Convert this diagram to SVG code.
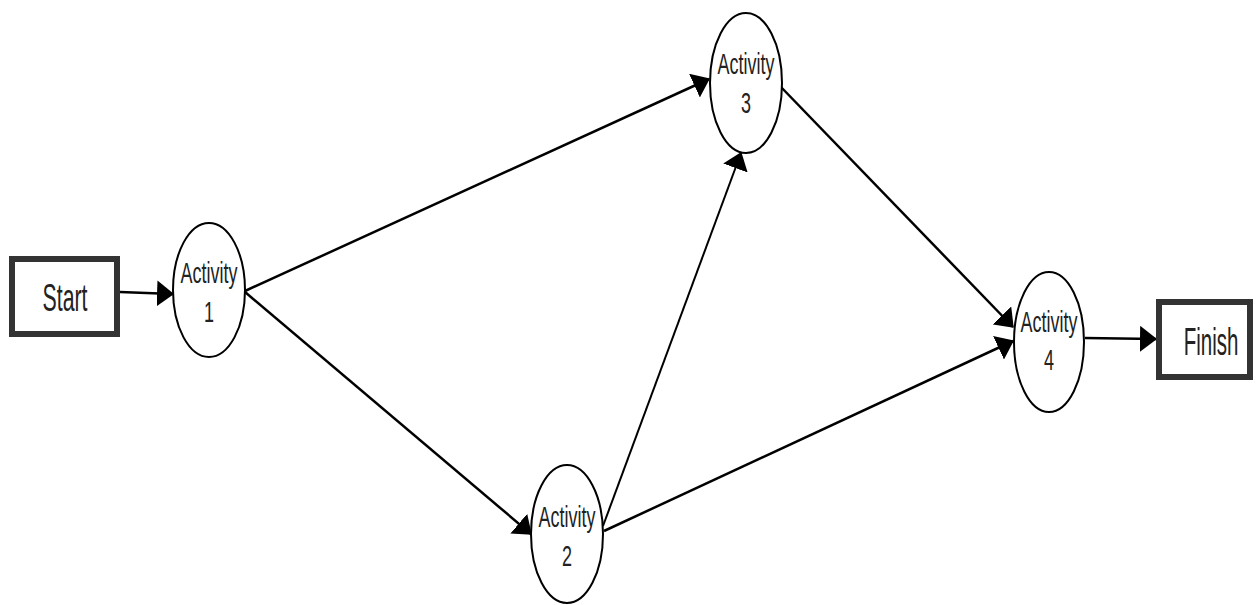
<svg xmlns="http://www.w3.org/2000/svg" width="1256" height="605" viewBox="0 0 1256 605">
  <style>
    .box { fill: #ffffff; stroke: #333333; stroke-width: 6; }
    .act { fill: #ffffff; stroke: #000000; stroke-width: 2; }
    .lbl { font-family: "Liberation Sans", Arial, sans-serif; fill: #222222; text-anchor: middle; }
    .edge { stroke: #000000; stroke-width: 2.5; fill: none; marker-end: url(#arrow); }
  </style>
  <defs>
    <marker id="arrow" markerUnits="userSpaceOnUse" markerWidth="17" markerHeight="26" refX="16" refY="13" orient="auto">
      <path d="M0,0 L17,13 L0,26 z" fill="#000000"/>
    </marker>
  </defs>
  <rect width="1256" height="605" fill="#ffffff"/>

  <g id="connectors">
    <line class="edge" x1="120" y1="292" x2="173" y2="294"/>
    <line class="edge" x1="245" y1="291" x2="709" y2="79"/>
    <line class="edge" x1="245" y1="292" x2="531" y2="534"/>
    <line class="edge" x1="603" y1="526" x2="741" y2="153" style="stroke-width:2"/>
    <line class="edge" x1="780" y1="86" x2="1013" y2="327"/>
    <line class="edge" x1="604" y1="531" x2="1013" y2="341"/>
    <line class="edge" x1="1085" y1="338" x2="1156" y2="339"/>
  </g>

  <g id="start">
    <rect class="box" x="12" y="259" width="105" height="75"/>
    <text class="lbl" font-size="38" transform="translate(65,311) scale(0.56,1)" x="0" y="0">Start</text>
  </g>

  <g id="activity1">
    <ellipse class="act" cx="209" cy="290" rx="36" ry="67"/>
    <text class="lbl" font-size="30" transform="translate(209,283) scale(0.6,1)" x="0" y="0">Activity</text>
    <text class="lbl" font-size="30" transform="translate(209,322) scale(0.6,1)" x="0" y="0">1</text>
  </g>

  <g id="activity2">
    <ellipse class="act" cx="567" cy="534" rx="36" ry="69"/>
    <text class="lbl" font-size="30" transform="translate(567,527) scale(0.6,1)" x="0" y="0">Activity</text>
    <text class="lbl" font-size="30" transform="translate(567,566) scale(0.6,1)" x="0" y="0">2</text>
  </g>

  <g id="activity3">
    <ellipse class="act" cx="746" cy="83" rx="36" ry="70"/>
    <text class="lbl" font-size="30" transform="translate(746,74) scale(0.6,1)" x="0" y="0">Activity</text>
    <text class="lbl" font-size="30" transform="translate(746,113) scale(0.6,1)" x="0" y="0">3</text>
  </g>

  <g id="activity4">
    <ellipse class="act" cx="1049" cy="342" rx="35" ry="70"/>
    <text class="lbl" font-size="30" transform="translate(1049,332) scale(0.6,1)" x="0" y="0">Activity</text>
    <text class="lbl" font-size="30" transform="translate(1049,370) scale(0.6,1)" x="0" y="0">4</text>
  </g>

  <g id="finish">
    <rect class="box" x="1159" y="302" width="91" height="75"/>
    <text class="lbl" font-size="38" transform="translate(1211,355) scale(0.54,1)" x="0" y="0">Finish</text>
  </g>
</svg>
